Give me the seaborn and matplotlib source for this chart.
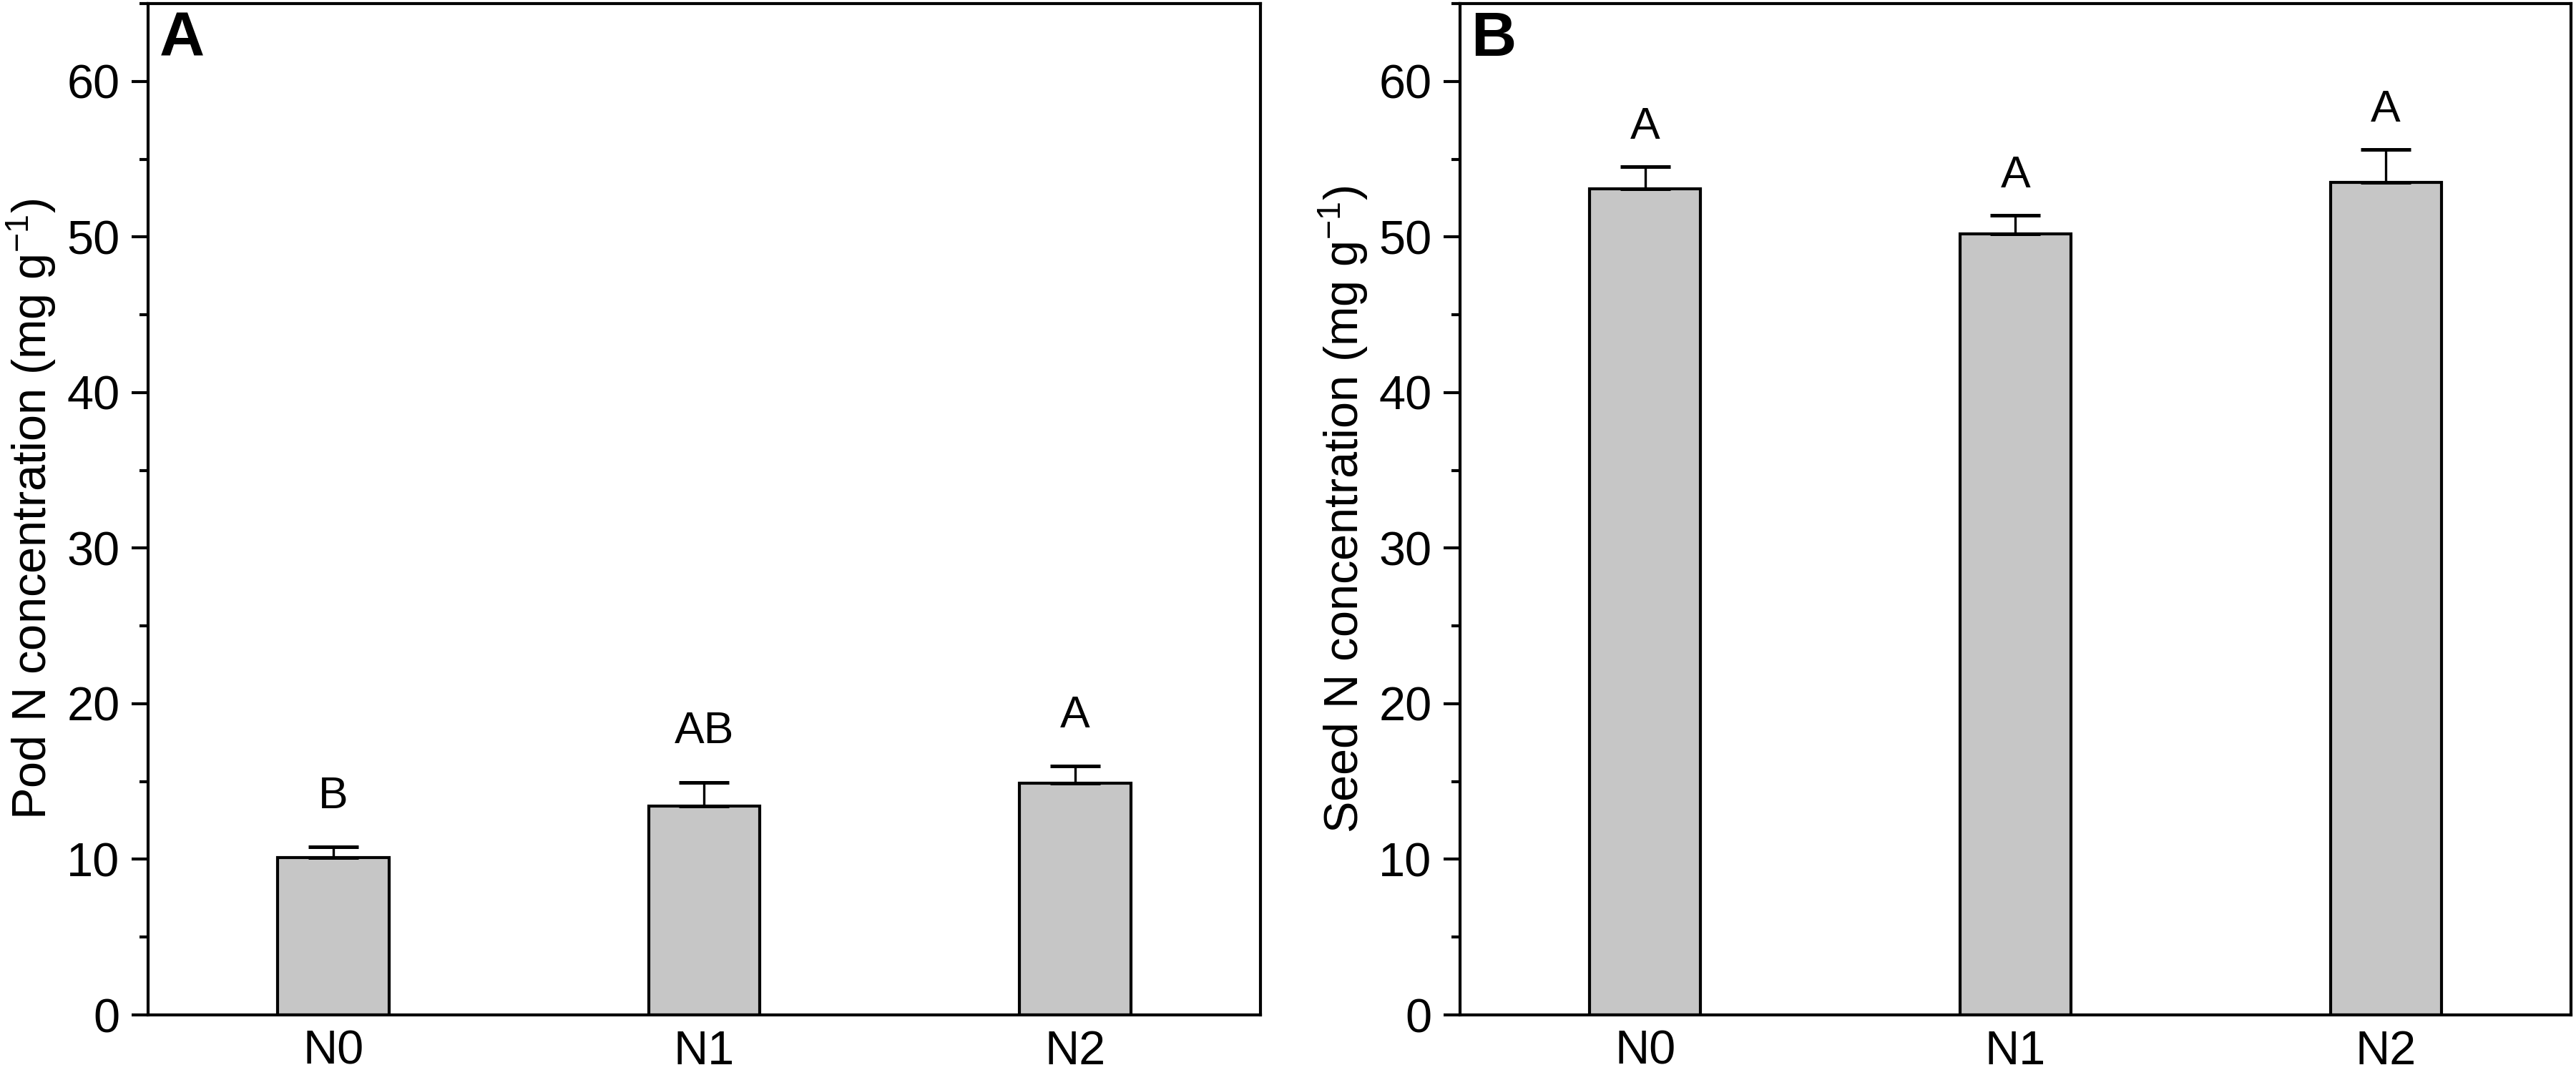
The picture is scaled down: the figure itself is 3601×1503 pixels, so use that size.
import numpy as np
import seaborn as sns
import matplotlib.pyplot as plt
from matplotlib.ticker import MultipleLocator

# Data
treatments = ["N0", "N1", "N2"]
pod_mean = [10.1, 13.4, 14.9]
pod_se = [0.7, 1.55, 1.1]
pod_letters = ["B", "AB", "A"]
seed_mean = [53.1, 50.2, 53.5]
seed_se = [1.4, 1.2, 2.1]
seed_letters = ["A", "A", "A"]

sns.set_style("ticks")
plt.rcParams["font.family"] = ["Liberation Sans", "DejaVu Sans"]
plt.rcParams["mathtext.fontset"] = "custom"
plt.rcParams["mathtext.rm"] = "Liberation Sans"
plt.rcParams["mathtext.it"] = "Liberation Sans:italic"
for key in ["text.color", "axes.labelcolor", "xtick.color", "ytick.color",
            "axes.edgecolor"]:
    plt.rcParams[key] = "black"

W, H = 3601, 1503
fig = plt.figure(figsize=(W / 300, H / 300), dpi=300)
bottom = 1 - 1419 / H
height = (1419 - 5) / H
axA = fig.add_axes([207 / W, bottom, (1762 - 207) / W, height])
axB = fig.add_axes([2041 / W, bottom, (3594 - 2041) / W, height])


def draw_panel(ax, means, errs, letters, gap, ylabel, tag):
    sns.barplot(x=treatments, y=means, ax=ax, color="#c6c6c6", width=0.3,
                edgecolor="black", linewidth=1.0, saturation=1)
    ax.errorbar(np.arange(len(means)), means, yerr=[np.zeros(len(errs)), errs],
                fmt="none", ecolor="black", elinewidth=0.8, capsize=8.5,
                capthick=1.2, zorder=1)
    for i, (m, e, t) in enumerate(zip(means, errs, letters)):
        ax.text(i, m + e + gap, t, ha="center", va="baseline", fontsize=15)
    ax.set_xlim(-0.5, 2.5)
    ax.set_ylim(0, 65)
    ax.yaxis.set_major_locator(MultipleLocator(10))
    ax.yaxis.set_minor_locator(MultipleLocator(5))
    ax.tick_params(axis="y", which="major", direction="out", length=5.5,
                   width=1.0, labelsize=16, pad=4)
    ax.tick_params(axis="y", which="minor", direction="out", length=2.8,
                   width=1.0)
    ax.tick_params(axis="x", length=0, labelsize=16, pad=5)
    for s in ax.spines.values():
        s.set_linewidth(1.0)
        s.set_color("black")
        s.set_visible(True)
    ax.set_xlabel("")
    ax.set_ylabel(ylabel, fontsize=16, labelpad=3)
    ax.text(0.01, 0.993, tag, transform=ax.transAxes, ha="left", va="top",
            fontsize=21, fontweight="bold")


draw_panel(axA, pod_mean, pod_se, pod_letters, 2.5,
           "Pod N concentration (mg g$^{-1}$)", "A")
draw_panel(axB, seed_mean, seed_se, seed_letters, 1.8,
           "Seed N concentration (mg g$^{-1}$)", "B")

fig.savefig("out.png", dpi=300, facecolor="white")
